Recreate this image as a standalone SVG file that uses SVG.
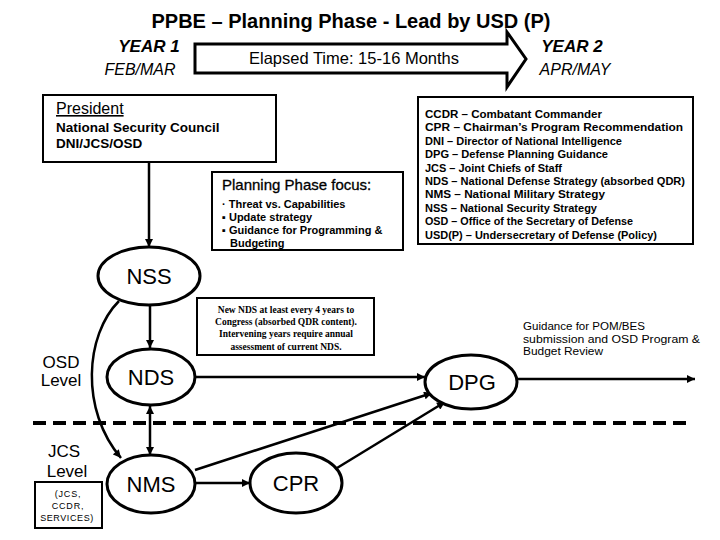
<svg xmlns="http://www.w3.org/2000/svg" width="720" height="540" viewBox="0 0 720 540">
<style>
.sans{font-family:"Liberation Sans",Arial,sans-serif;fill:#000}
.b{font-weight:bold}
.it{font-style:italic}
.box{fill:#fff;stroke:#000;stroke-width:2}
.ell{fill:#fff;stroke:#000;stroke-width:3}
.lbl{font-family:"Liberation Sans",Arial,sans-serif;font-size:22px;text-anchor:middle}
.con{fill:none;stroke:#000;stroke-width:2.5}
.leg{font-family:"Liberation Sans",Arial,sans-serif;font-size:10.5px;font-weight:bold}
.note{font-family:"Liberation Serif","Times New Roman",serif;font-size:9.5px;font-weight:bold;text-anchor:middle}
</style>
<defs>
<marker id="ah" viewBox="0 0 10 10" refX="10" refY="5" markerWidth="9" markerHeight="8" markerUnits="userSpaceOnUse" orient="auto-start-reverse">
<path d="M0,0 L10,5 L0,10 z" fill="#000"/>
</marker>
</defs>
<rect width="720" height="540" fill="#fff"/>

<g id="title">
<text class="sans b" x="351" y="28" font-size="20" text-anchor="middle">PPBE – Planning Phase - Lead by USD (P)</text>
</g>

<g id="year1">
<text class="sans b it" x="149" y="52" font-size="17" text-anchor="middle">YEAR 1</text>
<text class="sans it" x="140" y="75" font-size="16" text-anchor="middle">FEB/MAR</text>
</g>
<g id="year2">
<text class="sans b it" x="572" y="52" font-size="17" text-anchor="middle">YEAR 2</text>
<text class="sans it" x="575" y="75" font-size="16" text-anchor="middle">APR/MAY</text>
</g>

<g id="elapsed">
<polygon points="195,44 507,44 507,32 526,59 507,87 507,73 195,73" fill="#fff" stroke="#000" stroke-width="3" stroke-linejoin="miter"/>
<text class="sans" x="354" y="64" font-size="16.5" text-anchor="middle">Elapsed Time: 15-16 Months</text>
</g>

<g id="president">
<rect class="box" x="43" y="95" width="233" height="67"/>
<text class="sans" x="56" y="114" font-size="16" text-decoration="underline">President</text>
<text class="sans b" x="56" y="132" font-size="13.5">National Security Council</text>
<text class="sans b" x="56" y="148" font-size="13.5">DNI/JCS/OSD</text>
</g>

<g id="focus">
<rect class="box" x="212" y="172" width="191" height="78"/>
<text class="sans" x="222" y="190" font-size="15" stroke="#000" stroke-width="0.3">Planning Phase focus:</text>
<text class="sans b" x="222" y="208" font-size="11">· Threat vs. Capabilities</text>
<text class="sans b" x="222" y="221" font-size="11">▪ Update strategy</text>
<text class="sans b" x="222" y="234" font-size="11">▪ Guidance for Programming &amp;</text>
<text class="sans b" x="230" y="247" font-size="11">Budgeting</text>
</g>

<g id="legend">
<rect class="box" x="418" y="97" width="275" height="147"/>
<text class="leg" x="425" y="118" textLength="177" lengthAdjust="spacingAndGlyphs">CCDR – Combatant Commander</text>
<text class="leg" x="425" y="131.4" textLength="258" lengthAdjust="spacingAndGlyphs">CPR – Chairman’s Program Recommendation</text>
<text class="leg" x="425" y="144.8" textLength="197" lengthAdjust="spacingAndGlyphs">DNI – Director of National Intelligence</text>
<text class="leg" x="425" y="158.2" textLength="183" lengthAdjust="spacingAndGlyphs">DPG – Defense Planning Guidance</text>
<text class="leg" x="425" y="171.6" textLength="137" lengthAdjust="spacingAndGlyphs">JCS – Joint Chiefs of Staff</text>
<text class="leg" x="425" y="185" textLength="260" lengthAdjust="spacingAndGlyphs">NDS – National Defense Strategy (absorbed QDR)</text>
<text class="leg" x="425" y="198.4" textLength="180" lengthAdjust="spacingAndGlyphs">NMS – National Military Strategy</text>
<text class="leg" x="425" y="211.8" textLength="172" lengthAdjust="spacingAndGlyphs">NSS – National Security Strategy</text>
<text class="leg" x="425" y="225.2" textLength="208" lengthAdjust="spacingAndGlyphs">OSD – Office of the Secretary of Defense</text>
<text class="leg" x="425" y="238.6" textLength="232" lengthAdjust="spacingAndGlyphs">USD(P) – Undersecretary of Defense (Policy)</text>
</g>

<g id="ndsnote">
<rect class="box" x="197" y="298" width="177" height="57"/>
<text class="note" x="286" y="313">New NDS at least every 4 years to</text>
<text class="note" x="286" y="325">Congress (absorbed QDR content).</text>
<text class="note" x="286" y="337">Intervening years require annual</text>
<text class="note" x="286" y="350">assessment of current NDS.</text>
</g>

<g id="guidance">
<text class="sans" x="523" y="330" font-size="10" textLength="122" lengthAdjust="spacingAndGlyphs">Guidance for POM/BES</text>
<text class="sans" x="523" y="343" font-size="10" textLength="177" lengthAdjust="spacingAndGlyphs">submission and OSD Program &amp;</text>
<text class="sans" x="523" y="355" font-size="10" textLength="80" lengthAdjust="spacingAndGlyphs">Budget Review</text>
</g>

<g id="levels">
<line x1="33" y1="423" x2="693" y2="423" stroke="#000" stroke-width="4" stroke-dasharray="13 7"/>
<text class="sans" x="61" y="368" font-size="17" text-anchor="middle">OSD</text>
<text class="sans" x="61" y="386" font-size="17" text-anchor="middle">Level</text>
<text class="sans" x="64" y="457" font-size="17" text-anchor="middle">JCS</text>
<text class="sans" x="67" y="477" font-size="17" text-anchor="middle">Level</text>
</g>

<g id="jcsbox">
<rect class="box" x="35" y="482" width="67" height="46"/>
<text class="sans" x="68" y="497" font-size="9" text-anchor="middle" letter-spacing="0.8">(JCS,</text>
<text class="sans" x="68" y="509" font-size="9" text-anchor="middle" letter-spacing="0.8">CCDR,</text>
<text class="sans" x="67" y="521" font-size="9" text-anchor="middle" letter-spacing="0.6">SERVICES)</text>
</g>

<g id="connectors">
<path class="con" d="M149,162 L149,247" marker-end="url(#ah)"/>
<path class="con" d="M150,305 L150,348" marker-end="url(#ah)"/>
<path class="con" d="M119,301 C85,335 80,410 121,458" marker-end="url(#ah)"/>
<path class="con" d="M150,406 L150,455" marker-start="url(#ah)" marker-end="url(#ah)"/>
<path class="con" d="M195,377 L425,377" marker-end="url(#ah)"/>
<path class="con" d="M195,470 L432,393" marker-end="url(#ah)"/>
<path class="con" d="M195,483 L250,483" marker-end="url(#ah)"/>
<path class="con" d="M337,468 L445,402" marker-end="url(#ah)"/>
<path class="con" d="M517,379 L695,379" stroke-width="2" marker-end="url(#ah)"/>
</g>

<g id="nss">
<ellipse class="ell" cx="149" cy="276" rx="51" ry="29"/>
<text class="lbl" x="149" y="284">NSS</text>
</g>
<g id="nds">
<ellipse class="ell" cx="151" cy="377" rx="44" ry="28"/>
<text class="lbl" x="151" y="385">NDS</text>
</g>
<g id="nms">
<ellipse class="ell" cx="151" cy="484" rx="44" ry="29"/>
<text class="lbl" x="151" y="492">NMS</text>
</g>
<g id="dpg">
<ellipse class="ell" cx="471" cy="382" rx="46" ry="27"/>
<text class="lbl" x="472" y="390">DPG</text>
</g>
<g id="cpr">
<ellipse class="ell" cx="296" cy="483" rx="46" ry="30"/>
<text class="lbl" x="296" y="491">CPR</text>
</g>
</svg>
